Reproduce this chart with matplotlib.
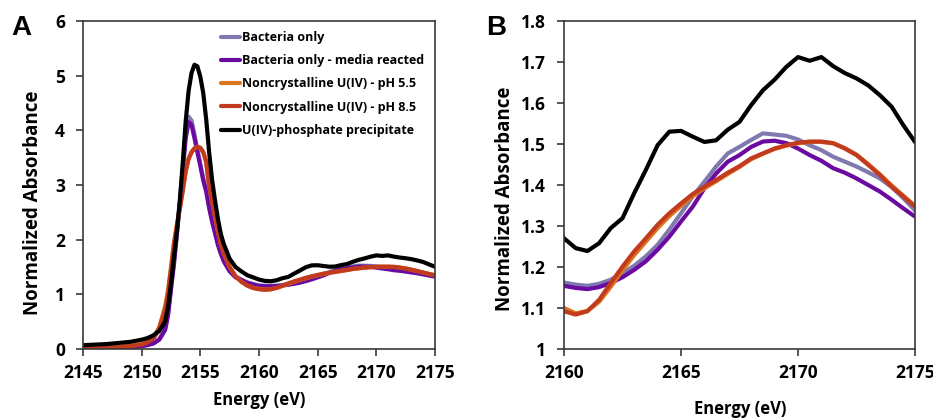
import matplotlib
matplotlib.use("Agg")
import matplotlib.pyplot as plt

# ---------------- data ----------------
energy = [2145, 2146, 2147, 2148, 2149, 2150, 2150.5, 2151, 2151.5,
          2152, 2152.25, 2152.5, 2152.75, 2153, 2153.25, 2153.5, 2153.75,
          2154, 2154.25, 2154.5, 2154.75, 2155, 2155.25, 2155.5, 2155.75,
          2156, 2156.25, 2156.5, 2156.75, 2157,
          2157.5, 2158, 2158.5, 2159, 2159.5, 2160, 2160.5, 2161, 2161.5,
          2162, 2162.5, 2163, 2163.5, 2164, 2164.5, 2165, 2165.5, 2166,
          2166.5, 2167, 2167.5, 2168, 2168.5, 2169, 2169.5, 2170, 2170.5,
          2171, 2171.5, 2172, 2172.5, 2173, 2173.5, 2174, 2174.5, 2175]

bacteria_only = [0.01, 0.01, 0.02, 0.03, 0.04, 0.06, 0.08, 0.11, 0.18,
                 0.36, 0.64, 1.12, 1.58, 2.12, 2.70, 3.30, 3.95,
                 4.25, 4.18, 3.92, 3.65, 3.38, 3.12, 2.92, 2.62,
                 2.37, 2.15, 1.93, 1.77, 1.63,
                 1.44, 1.33, 1.27, 1.22, 1.19, 1.162, 1.157, 1.154, 1.159,
                 1.169, 1.185, 1.203, 1.226, 1.254, 1.291, 1.331, 1.372, 1.408,
                 1.445, 1.477, 1.493, 1.510, 1.526, 1.523, 1.520, 1.511, 1.497,
                 1.485, 1.469, 1.457, 1.445, 1.431, 1.416, 1.395, 1.368, 1.338]

bacteria_media = [0.00, 0.01, 0.01, 0.02, 0.03, 0.05, 0.07, 0.10, 0.17,
                  0.35, 0.62, 1.10, 1.55, 2.10, 2.65, 3.25, 3.85,
                  4.15, 4.10, 3.86, 3.60, 3.35, 3.08, 2.88, 2.58,
                  2.33, 2.12, 1.90, 1.74, 1.60,
                  1.42, 1.31, 1.26, 1.21, 1.18, 1.154, 1.149, 1.146, 1.151,
                  1.161, 1.175, 1.193, 1.214, 1.242, 1.274, 1.311, 1.347, 1.392,
                  1.428, 1.457, 1.473, 1.493, 1.506, 1.508, 1.502, 1.489, 1.473,
                  1.459, 1.441, 1.430, 1.416, 1.400, 1.384, 1.364, 1.343, 1.323]

noncryst_ph55 = [0.01, 0.02, 0.03, 0.04, 0.06, 0.09, 0.13, 0.21, 0.40,
                 0.78, 1.08, 1.50, 1.95, 2.27, 2.58, 2.90, 3.25,
                 3.48, 3.60, 3.67, 3.70, 3.68, 3.60, 3.42, 2.98,
                 2.70, 2.43, 2.15, 1.92, 1.75,
                 1.50, 1.33, 1.23, 1.16, 1.12, 1.100, 1.087, 1.093, 1.115,
                 1.152, 1.192, 1.229, 1.262, 1.295, 1.324, 1.349, 1.373, 1.392,
                 1.409, 1.427, 1.444, 1.463, 1.476, 1.488, 1.496, 1.502, 1.505,
                 1.505, 1.502, 1.490, 1.474, 1.451, 1.426, 1.399, 1.374, 1.349]

noncryst_ph85 = [0.01, 0.01, 0.02, 0.03, 0.05, 0.08, 0.12, 0.19, 0.37,
                 0.72, 1.02, 1.45, 1.90, 2.25, 2.57, 2.89, 3.25,
                 3.48, 3.60, 3.67, 3.70, 3.68, 3.60, 3.42, 2.98,
                 2.70, 2.43, 2.15, 1.92, 1.75,
                 1.50, 1.33, 1.23, 1.16, 1.115, 1.092, 1.084, 1.092, 1.120,
                 1.161, 1.201, 1.238, 1.270, 1.303, 1.331, 1.355, 1.378, 1.396,
                 1.412, 1.430, 1.446, 1.465, 1.477, 1.489, 1.497, 1.503, 1.506,
                 1.506, 1.502, 1.489, 1.473, 1.449, 1.424, 1.396, 1.372, 1.347]

phosphate = [0.07, 0.08, 0.09, 0.11, 0.13, 0.17, 0.20, 0.25, 0.33,
             0.50, 0.78, 1.20, 1.68, 2.15, 2.70, 3.40, 4.16,
             4.72, 5.05, 5.20, 5.17, 4.98, 4.68, 4.20, 3.60,
             3.10, 2.72, 2.38, 2.10, 1.92,
             1.65, 1.50, 1.42, 1.35, 1.31, 1.27, 1.246, 1.239, 1.258,
             1.295, 1.319, 1.380, 1.437, 1.497, 1.530, 1.532, 1.518, 1.505,
             1.509, 1.535, 1.554, 1.595, 1.631, 1.657, 1.688, 1.712, 1.703,
             1.712, 1.690, 1.673, 1.660, 1.643, 1.619, 1.591, 1.546, 1.505]

labels = ["Bacteria only", "Bacteria only - media reacted",
          "Noncrystalline U(IV) - pH 5.5", "Noncrystalline U(IV) - pH 8.5",
          "U(IV)-phosphate precipitate"]
colors = ["#8079b0", "#6a0aa0", "#dc761e", "#c23b1f", "#000000"]

xticks_a = [2145, 2150, 2155, 2160, 2165, 2170, 2175]
yticks_a = [0, 1, 2, 3, 4, 5, 6]
xticks_b = [2160, 2165, 2170, 2175]
yticks_b = [1, 1.1, 1.2, 1.3, 1.4, 1.5, 1.6, 1.7, 1.8]

# ---------------- style ----------------
plt.rcParams['font.family'] = ['Open Sans', 'DejaVu Sans']
plt.rcParams['font.weight'] = 'bold'
spine_col = "#3a3a3a"

W, H = 933, 420
fig = plt.figure(figsize=(W / 100, H / 100), dpi=100)

def px_axes(l, r, t, b):
    return fig.add_axes([l / W, 1 - b / H, (r - l) / W, (b - t) / H])

ax_a = px_axes(83, 435, 21, 349)
ax_b = px_axes(564, 915, 21, 349)

series = [bacteria_only, bacteria_media, noncryst_ph55, noncryst_ph85, phosphate]

for ax in (ax_a, ax_b):
    for y, c, lab in zip(series, colors, labels):
        ax.plot(energy, y, color=c, lw=3.0, label=lab, solid_capstyle='round',
                solid_joinstyle='round')
    for s in ax.spines.values():
        s.set_color(spine_col)
        s.set_linewidth(1.2)
    ax.tick_params(direction='out', length=5, width=1.2, color=spine_col,
                   labelsize=12.5, labelcolor='black')
    ax.tick_params(axis='y', pad=8)
    ax.tick_params(axis='x', pad=5.5)

ax_a.set_xlim(2145, 2175)
ax_a.set_ylim(0, 6)
ax_a.set_xticks(xticks_a)
ax_a.set_yticks(yticks_a)
ax_a.set_xticklabels([str(v) for v in xticks_a], fontweight='bold')
ax_a.set_yticklabels([str(v) for v in yticks_a], fontweight='bold')

ax_b.set_xlim(2160, 2175)
ax_b.set_ylim(1, 1.8)
ax_b.set_xticks(xticks_b)
ax_b.set_yticks(yticks_b)
ax_b.set_xticklabels([str(v) for v in xticks_b], fontweight='bold')
ax_b.set_yticklabels(["1" if v == 1 else f"{v:.1f}" for v in yticks_b],
                     fontweight='bold')

leg = ax_a.legend(loc='upper left', bbox_to_anchor=((221 - 83) / 352, (349 - 31) / 328),
                  frameon=False, fontsize=9, handlelength=1.55, handletextpad=0.1,
                  labelspacing=0.82, borderpad=0, borderaxespad=0)
for t in leg.get_texts():
    t.set_fontweight('bold')

# axis labels
fig.text(259 / W, 1 - 400 / H, "Energy (eV)", ha='center', va='center',
         fontsize=12, fontweight='bold')
fig.text(740 / W, 1 - 409 / H, "Energy (eV)", ha='center', va='center',
         fontsize=12, fontweight='bold')
fig.text(33 / W, 1 - 203 / H, "Normalized Absorbance", ha='center', va='center',
         rotation=90, fontsize=13.5, fontweight='bold')
fig.text(505 / W, 1 - 199 / H, "Normalized Absorbance", ha='center', va='center',
         rotation=90, fontsize=13.5, fontweight='bold')

# panel letters
fig.text(11 / W, 1 - 35 / H, "A", ha='left', va='baseline', fontsize=20,
         fontweight='bold', family=['Liberation Sans', 'DejaVu Sans'])
fig.text(486 / W, 1 - 35 / H, "B", ha='left', va='baseline', fontsize=20,
         fontweight='bold', family=['Liberation Sans', 'DejaVu Sans'])

fig.savefig("out.png", dpi=100)
